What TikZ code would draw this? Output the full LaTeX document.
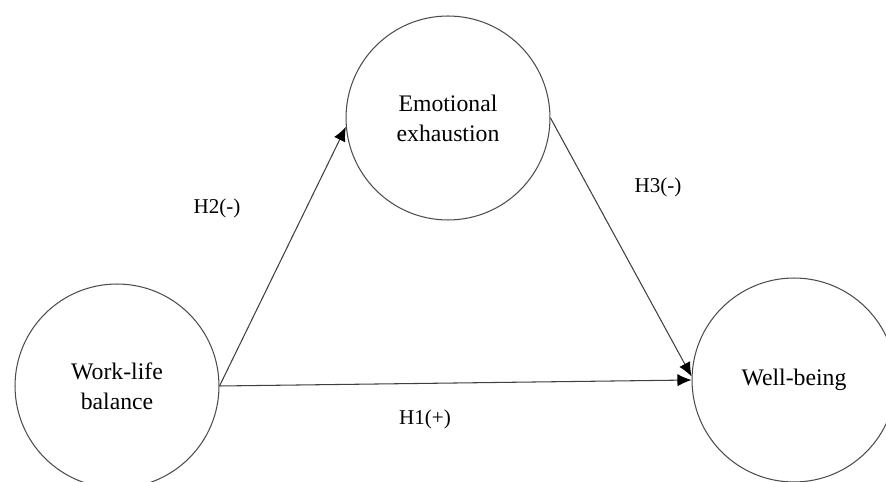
\documentclass[tikz,border=0pt]{standalone}
\usepackage{fontspec}
\setmainfont{Liberation Serif}
\usetikzlibrary{arrows.meta}
\begin{document}
\begin{tikzpicture}[
                x=0.02cm, y=-0.02cm,
                construct/.style={circle, draw=black!70, line width=0.6pt, minimum size=4.08cm, inner sep=0pt, align=center, font=\fontsize{13.5}{17}\selectfont},
                link/.style={draw=black!75, line width=0.6pt, -{Latex[length=8pt,width=7pt,black]}},
                hyp/.style={font=\fontsize{12}{14}\selectfont}
            ]
                \useasboundingbox (0,0) rectangle (886,482);
                \node[construct] (wlb) at (117,386) {Work-life\\balance};
                \node[construct] (ee) at (448,118) {Emotional\\exhaustion};
                \node[construct] (wb) at (794,380) {Well-being};
                \node[hyp] (h2) at (217,208) {H2(-)};
                \node[hyp] (h3) at (658,187) {H3(-)};
                \node[hyp] (h1) at (425,419) {H1(+)};
                \draw[link] (wlb.east) -- (ee.185);
                \draw[link] (ee.east) -- (wb.178);
                \draw[link] (wlb.east) -- (wb.west);
            \end{tikzpicture}
\end{document}
